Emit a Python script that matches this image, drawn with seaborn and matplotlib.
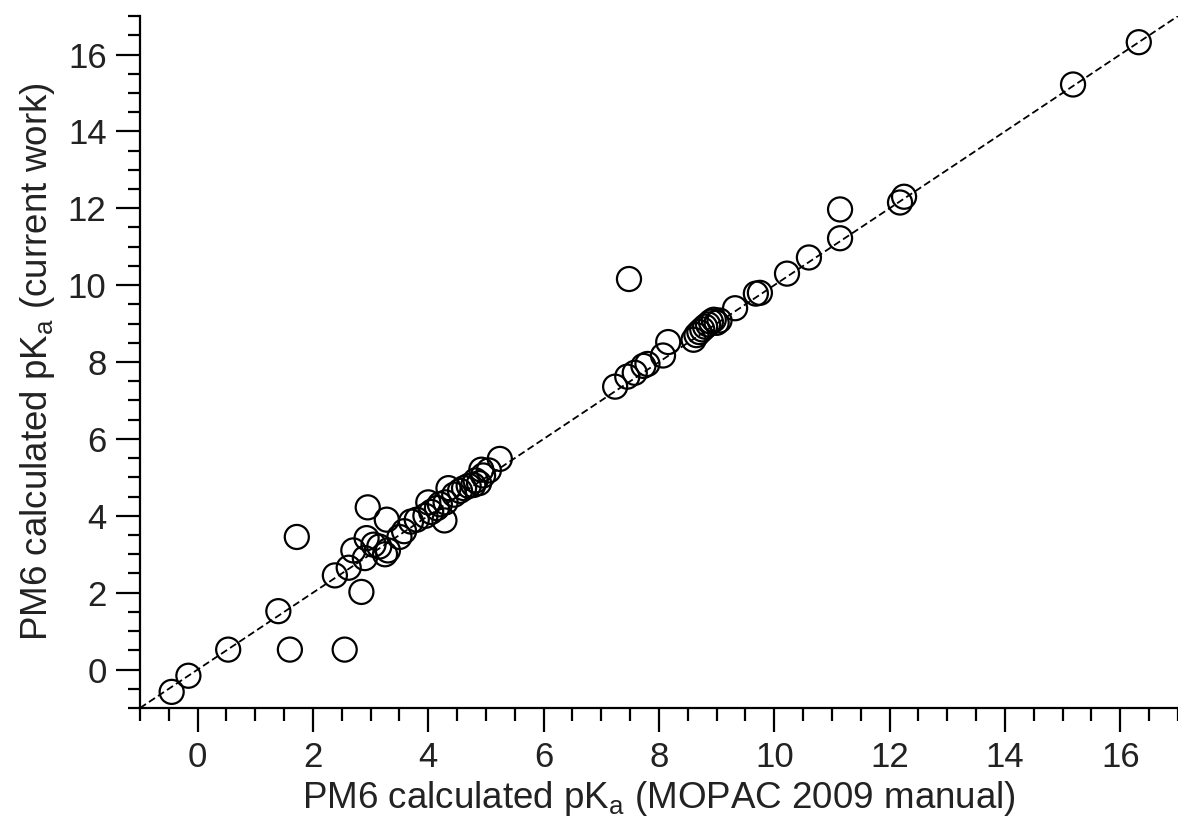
import numpy as np
import pandas as pd
import matplotlib
matplotlib.use("Agg")
import matplotlib.pyplot as plt
from matplotlib.ticker import MultipleLocator
import seaborn as sns

# pKa values
mopac_2009 = [
    -0.45, -0.16, 0.53, 1.40, 1.60, 1.72, 2.38, 2.55, 2.62, 2.70,
    2.84, 2.90, 2.93, 2.95, 3.05, 3.15, 3.25, 3.30, 3.28, 3.50,
    3.58, 3.70, 3.80, 3.95, 4.00, 4.05, 4.15, 4.20, 4.28, 4.30,
    4.35, 4.45, 4.55, 4.62, 4.70, 4.78, 4.82, 4.88, 4.92, 4.95,
    5.05, 5.24, 7.24, 7.45, 7.48, 7.58, 7.73, 7.80, 8.07, 8.16,
    8.60, 8.65, 8.70, 8.75, 8.80, 8.85, 8.90, 8.95, 9.00, 9.05,
    9.32, 9.68, 9.75, 10.22, 10.60, 11.14, 11.14, 12.18, 12.25, 15.18,
    16.32,
]
current_work = [
    -0.58, -0.16, 0.52, 1.52, 0.52, 3.45, 2.45, 0.52, 2.65, 3.10,
    2.02, 2.90, 3.42, 4.22, 3.25, 3.20, 3.00, 3.10, 3.90, 3.45,
    3.60, 3.85, 3.90, 4.00, 4.35, 4.10, 4.20, 4.30, 3.88, 4.35,
    4.72, 4.55, 4.65, 4.72, 4.78, 4.80, 4.92, 4.85, 5.20, 5.05,
    5.18, 5.48, 7.36, 7.62, 10.16, 7.72, 7.90, 7.95, 8.17, 8.52,
    8.58, 8.70, 8.78, 8.85, 8.92, 8.98, 9.05, 9.10, 9.02, 9.08,
    9.40, 9.78, 9.80, 10.30, 10.72, 11.22, 11.97, 12.15, 12.30, 15.22,
    16.32,
]

df = pd.DataFrame({"mopac": mopac_2009, "current": current_work})

sns.set_style("ticks")
plt.rcParams["font.family"] = ["Liberation Sans", "DejaVu Sans"]
plt.rcParams["mathtext.default"] = "regular"

fig = plt.figure(figsize=(11.78, 8.32), dpi=100)
ax = fig.add_axes([0.1188, 0.1490, 0.8812, 0.8317])

# y = x reference line
ax.plot([-1, 17], [-1, 17], color="black", lw=1.3, ls=(0, (4, 2)), zorder=1)

sns.scatterplot(data=df, x="mopac", y="current", ax=ax, s=300,
                facecolor="none", edgecolor="black", linewidth=1.6,
                zorder=2, legend=False)

ax.set_xlim(-1, 17)
ax.set_ylim(-1, 17)
ax.xaxis.set_major_locator(MultipleLocator(2))
ax.xaxis.set_minor_locator(MultipleLocator(0.5))
ax.yaxis.set_major_locator(MultipleLocator(2))
ax.yaxis.set_minor_locator(MultipleLocator(0.5))
ax.tick_params(which="major", length=17, width=1.6, labelsize=25, color="black",
               labelcolor="#222222", pad=7)
ax.tick_params(which="minor", length=9, width=1.6, color="black")

sns.despine(ax=ax)
for sp in ["left", "bottom"]:
    ax.spines[sp].set_linewidth(1.6)
    ax.spines[sp].set_color("black")

ax.set_xlabel("PM6 calculated pK$_{a}$ (MOPAC 2009 manual)", fontsize=26.5,
              color="#222222", labelpad=3)
ax.set_ylabel("PM6 calculated pK$_{a}$ (current work)", fontsize=26.5,
              color="#222222", labelpad=8)

fig.savefig("out.png", dpi=100)
